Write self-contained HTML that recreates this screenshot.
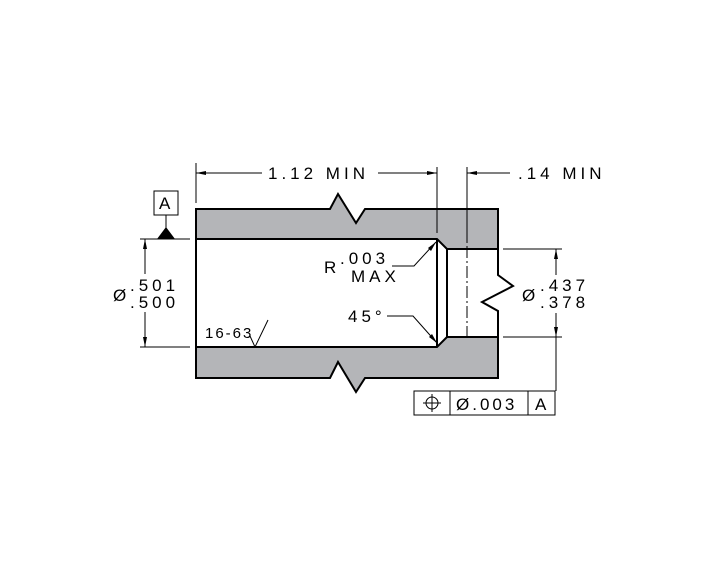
<!DOCTYPE html>
<html><head><style>body{margin:0;background:#fff}svg{display:block}</style></head><body>
<svg width="720" height="580" viewBox="0 0 720 580" xmlns="http://www.w3.org/2000/svg" font-family="Liberation Sans, sans-serif">
<rect width="720" height="580" fill="#fff"/>
<g fill="#b4b5b8" stroke="#000" stroke-width="2" stroke-linejoin="miter">
<path d="M196,209 L330,209 L338,194 L356,223 L365,209 L498,209 L498,249 L447,249 L437,239 L196,239 Z"/>
<path d="M196,347 L437,347 L447,337 L498,337 L498,378 L365,378 L356,392 L338,362 L330,378 L196,378 Z"/>
</g>
<g stroke="#000" fill="none" stroke-width="2">
<line x1="196" y1="239" x2="196" y2="347"/>
<line x1="437" y1="239" x2="437" y2="347"/>
<line x1="447" y1="249" x2="447" y2="337"/>
<polyline points="498,249 498,275 513,286 482,302 498,311 498,337"/>
</g>
<g stroke="#000" fill="none" stroke-width="1">
<line x1="196" y1="163" x2="196" y2="203"/>
<line x1="437" y1="167" x2="437" y2="233"/>
<line x1="467" y1="167" x2="467" y2="243"/>
<line x1="467" y1="246" x2="467" y2="337" stroke-dasharray="12,3,2,3"/>
<line x1="196" y1="173" x2="262" y2="173"/>
<line x1="378" y1="173" x2="437" y2="173"/>
<line x1="467" y1="173" x2="510" y2="173"/>
<line x1="140" y1="239" x2="190" y2="239"/>
<line x1="140" y1="347" x2="190" y2="347"/>
<line x1="145" y1="239" x2="145" y2="274"/>
<line x1="145" y1="312" x2="145" y2="347"/>
<line x1="503" y1="249" x2="562" y2="249"/>
<line x1="503" y1="337" x2="562" y2="337"/>
<line x1="556" y1="249" x2="556" y2="275"/>
<line x1="556" y1="313" x2="556" y2="391"/>
<polyline points="392,266 414,266 436,242"/>
<polyline points="387,316 413,316 437,343"/>
<polyline points="250,336 255,347 268,320"/>
<line x1="166" y1="215" x2="166" y2="228"/>
<rect x="154" y="191" width="24" height="24"/>
<rect x="414" y="391" width="141" height="24"/>
<line x1="450" y1="391" x2="450" y2="415"/>
<line x1="528" y1="391" x2="528" y2="415"/>
<circle cx="432" cy="403" r="6"/>
<line x1="423" y1="403" x2="441" y2="403"/>
<line x1="432" y1="394" x2="432" y2="412"/>
</g>
<g fill="#000">
<polygon points="157,239 175,239 166,227"/>
<polygon points="196,173 206,171 206,175"/>
<polygon points="437,173 427,171 427,175"/>
<polygon points="467,173 477,171 477,175"/>
<polygon points="145,239 143,249 147,249"/>
<polygon points="145,347 143,337 147,337"/>
<polygon points="556,249 554,259 558,259"/>
<polygon points="556,337 554,327 558,327"/>
<polygon points="436,242 428,248 431,251"/>
<polygon points="437,343 429,337 432,334"/>
</g>
<g font-size="17" fill="#000" letter-spacing="4">
<text x="268" y="179">1.12 MIN</text>
<text x="518" y="179">.14 MIN</text>
<text x="159" y="209" letter-spacing="0">A</text>
<text x="113" y="301">Ø</text>
<text x="130" y="291">.501</text>
<text x="130" y="308">.500</text>
<text x="324" y="273">R</text>
<text x="340" y="264">.003</text>
<text x="351" y="282">MAX</text>
<text x="348" y="322">45°</text>
<text x="205" y="338" font-size="15" letter-spacing="2">16-63</text>
<text x="522" y="301">Ø</text>
<text x="540" y="291">.437</text>
<text x="540" y="308">.378</text>
<text x="456" y="410" letter-spacing="3">Ø.003</text>
<text x="535" y="410" letter-spacing="0">A</text>
</g>
</svg>
</body></html>
